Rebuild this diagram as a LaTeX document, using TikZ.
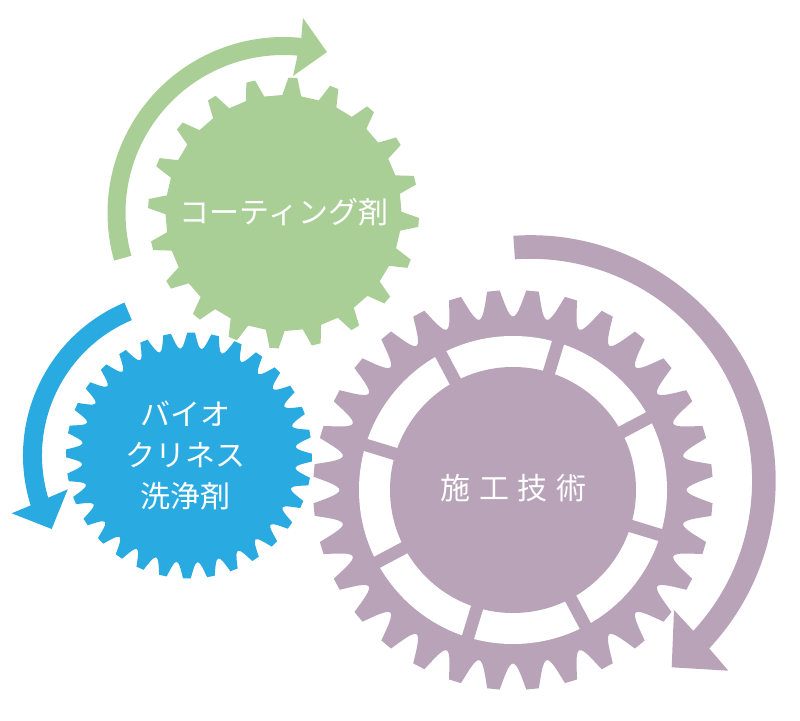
\documentclass[tikz,border=0pt]{standalone}
\usepackage{fontspec}
\setmainfont{Noto Sans CJK JP}
\newfontfamily\widecjk[LetterSpace=28]{Noto Sans CJK JP}
\usetikzlibrary{calc}

\definecolor{gearGreen}{HTML}{A9CF97}
\definecolor{gearBlue}{HTML}{29ABE2}
\definecolor{gearPurple}{HTML}{B8A3B9}

\tikzset{
	gearLabel/.style={text=white, align=center, inner sep=0pt, font=\fontsize{30}{41}\selectfont},
	spoke/.style={draw=gearPurple, line width=12.5pt}
}

% centre, colour, teeth, outer, root, phase
\newcommand{\SquareGear}[6]{
	\pgfmathsetmacro{\pitch}{360/#3}
	\pgfmathtruncatemacro{\lastk}{#3-1}
	\fill[#2, shift={(#1)}] ({#6-1.9}:#4)
		\foreach \k [evaluate=\k as \ang using #6+\k*\pitch] in {0,...,\lastk}{
			-- ({\ang-1.9}:#4) -- ({\ang+1.9}:#4) -- ({\ang+4.6}:#5) -- ({\ang+\pitch-4.6}:#5)
		} -- cycle;
}
\newcommand{\RoundGear}[6]{
	\pgfmathsetmacro{\pitch}{360/#3}
	\pgfmathtruncatemacro{\lastk}{#3-1}
	\pgfmathsetmacro{\flank}{#5+0.6*(#4-#5)}
	\fill[#2, shift={(#1)}] ({#6-1.8}:#4)
		\foreach \k [evaluate=\k as \ang using #6+\k*\pitch] in {0,...,\lastk}{
			-- ({\ang-1.8}:#4) -- ({\ang+1.8}:#4)
			.. controls ({\ang+2.8}:\flank) and ({\ang+\pitch/2-1.5}:#5) .. ({\ang+\pitch/2}:#5)
			.. controls ({\ang+\pitch/2+1.5}:#5) and ({\ang+\pitch-2.8}:\flank) .. ({\ang+\pitch-1.8}:#4)
		} -- cycle;
}

\begin{document}
\begin{tikzpicture}[x=1pt,y=1pt]
	\useasboundingbox (0,0) rectangle (800,720);

	\coordinate (greenC) at (283.5,507);
	\coordinate (blueC) at (189,264.5);
	\coordinate (purpleC) at (513,230);
	\coordinate (purpleArc) at (530.4,239.5);

	\SquareGear{greenC}{gearGreen}{20}{135.5}{118}{-4}
	\RoundGear{blueC}{gearBlue}{32}{123}{107}{-1}
	\RoundGear{purpleC}{gearPurple}{32}{200}{173.5}{5.625}

	\fill[white] (purpleC) circle (154);
	\foreach \ang in {73,28,-17,-62,-107,-152,163,118}
		\draw[spoke] (purpleC) -- ($(purpleC)+(\ang:158)$);
	\fill[gearPurple] (purpleC) circle (123);

	\fill[gearGreen] ($(greenC)+(195.7:176)$) arc (195.7:84.2:176)
		-- (303,702) -- (327,668) -- (293,644)
		-- ($(greenC)+(84.9:158)$) arc (84.9:195.7:158) -- cycle;
	\fill[gearBlue] ($(blueC)+(112.9:166)$) arc (112.9:197.5:166)
		-- (11.7,206.7) -- (51.7,191) -- (67.7,230.7)
		-- ($(blueC)+(196.7:147)$) arc (196.7:112.9:147) -- cycle;
	\fill[gearPurple] ($(purpleArc)+(94:245.3)$) arc (94:-43.2:245.3)
		-- (728.3,49.3) -- (671.7,52.7) -- (674,110)
		-- ($(purpleArc)+(-42.7:221.7)$) arc (-42.7:94:221.7) -- cycle;

	\node[gearLabel] (coating) at (284,508) {コーティング剤};
	\node[gearLabel] (bio) at (185,264) {バイオ\\クリネス\\洗浄剤};
	\node[gearLabel] (sekou) at (513.5,232) {\widecjk 施工技術};
\end{tikzpicture}
\end{document}
